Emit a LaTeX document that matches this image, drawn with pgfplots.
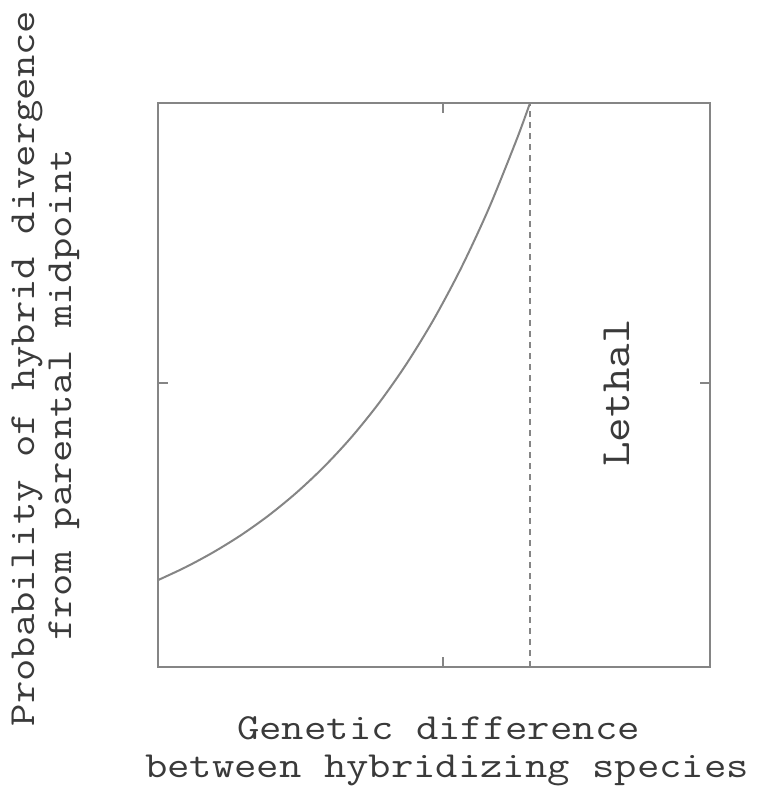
\documentclass[border=0pt]{standalone}
\usepackage{fontspec}
\usepackage{graphicx}
\usepackage{pgfplots}
\pgfplotsset{compat=1.18}
\definecolor{linegray}{HTML}{858585}
\definecolor{textgray}{HTML}{3A3A3A}
\newcommand{\lab}[1]{\scalebox{1.18}[1]{#1}}
\newcommand{\labL}[1]{\scalebox{1.14}[1]{#1}}
\newcommand{\labfont}{\ttfamily\fontsize{18.4}{18.4}\selectfont\addfontfeature{FakeBold=0.8}}
\begin{document}
\begin{tikzpicture}
\begin{axis}[
  scale only axis, width=276pt, height=282pt,
  xmin=0, xmax=1, ymin=0, ymax=1,
  xtick={0.516}, ytick={0.504},
  xticklabels={}, yticklabels={},
  tick align=inside, major tick length=5pt,
  axis line style={linegray, line width=0.8pt},
  tick style={linegray, line width=0.8pt},
  clip=false,
]
\addplot[linegray, line width=1pt, smooth] coordinates {
(0,0.154) (0.05,0.1769) (0.1,0.2033) (0.15,0.2335) (0.2,0.2683) (0.25,0.3083)
(0.3,0.3542) (0.35,0.4069) (0.4,0.4675) (0.45,0.5371) (0.5,0.6171) (0.55,0.7090)
(0.6,0.8145) (0.65,0.9358) (0.674,1.0)};
\addplot[linegray, line width=0.8pt, dash pattern=on 3pt off 2.5pt] coordinates {(0.674,0) (0.674,1)};
\node[rotate=90, anchor=base, inner sep=0pt, font=\labfont, text=textgray] at (axis cs:-0.2228,0.5293) {\lab{Probability of hybrid divergence}};
\node[rotate=90, anchor=base, inner sep=0pt, font=\labfont, text=textgray] at (axis cs:-0.1558,0.4823) {\lab{from parental midpoint}};
\node[anchor=base, inner sep=0pt, font=\labfont, text=textgray] at (axis cs:0.5082,-0.1277) {\lab{Genetic difference}};
\node[anchor=base, inner sep=0pt, font=\labfont, text=textgray] at (axis cs:0.5236,-0.1968) {\lab{between hybridizing species}};
\node[rotate=90, anchor=base, inner sep=0pt, font=\ttfamily\fontsize{20.9}{20.9}\selectfont\addfontfeature{FakeBold=0.8}, text=textgray] at (axis cs:0.855,0.4858) {\labL{Lethal}};
\coordinate (bl) at (axis cs:-0.2862,-0.2128);
\coordinate (tr) at (axis cs:1.1105,1.1826);
\end{axis}
\pgfresetboundingbox
\path[use as bounding box] (bl) rectangle (tr);
\end{tikzpicture}
\end{document}
